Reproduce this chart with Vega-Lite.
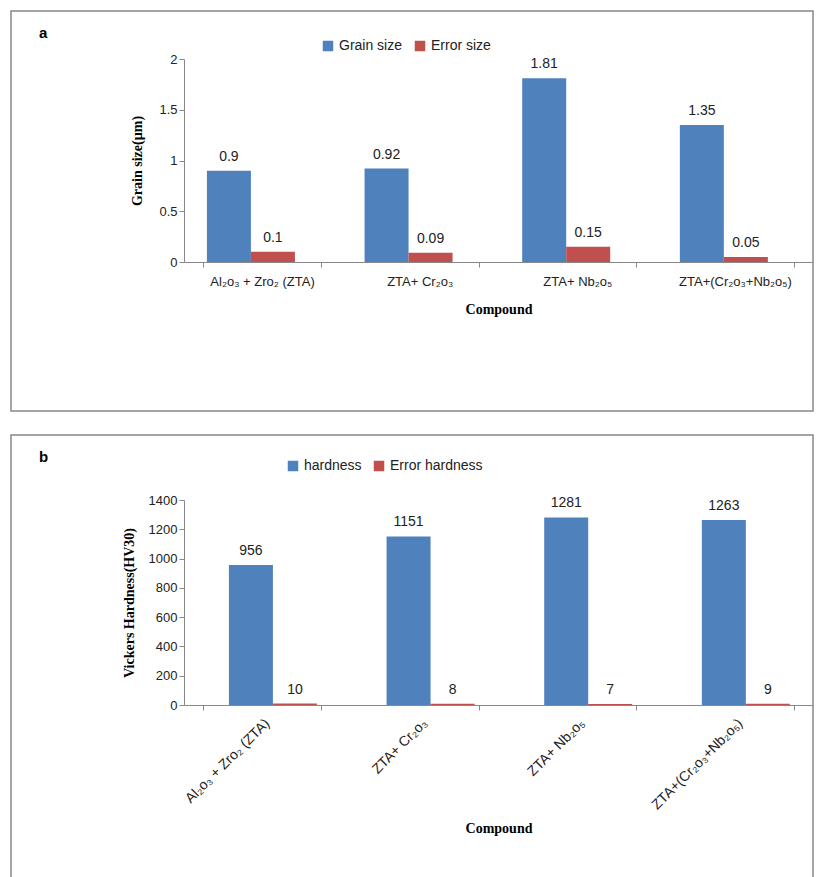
{
"$schema":"https://vega.github.io/schema/vega-lite/v6.json",
"padding":{"left":10,"top":10,"right":2,"bottom":0},
"spacing":22,
"resolve":{"scale":{"color":"independent"}},
"config":{"view":{"stroke":"#888","strokeWidth":1.5},"font":"Liberation Sans","axis":{"labelFont":"Liberation Sans","labelFontSize":13,"labelColor":"#222","titleFont":"Liberation Serif","titleFontSize":14,"titleColor":"#000","domainColor":"#888","tickColor":"#888","grid":false},"legend":{"labelFont":"Liberation Sans","labelFontSize":14,"labelColor":"#222","symbolType":"square","symbolSize":110,"orient":"none","direction":"horizontal","title":null}},
"datasets":{
"a":[
{"compound":"Al₂o₃ + Zro₂ (ZTA)","series":"Grain size","value":0.9},
{"compound":"Al₂o₃ + Zro₂ (ZTA)","series":"Error size","value":0.1},
{"compound":"ZTA+ Cr₂o₃","series":"Grain size","value":0.92},
{"compound":"ZTA+ Cr₂o₃","series":"Error size","value":0.09},
{"compound":"ZTA+ Nb₂o₅","series":"Grain size","value":1.81},
{"compound":"ZTA+ Nb₂o₅","series":"Error size","value":0.15},
{"compound":"ZTA+(Cr₂o₃+Nb₂o₅)","series":"Grain size","value":1.35},
{"compound":"ZTA+(Cr₂o₃+Nb₂o₅)","series":"Error size","value":0.05}],
"b":[
{"compound":"Al₂o₃ + Zro₂ (ZTA)","series":"hardness","value":956},
{"compound":"Al₂o₃ + Zro₂ (ZTA)","series":"Error hardness","value":10},
{"compound":"ZTA+ Cr₂o₃","series":"hardness","value":1151},
{"compound":"ZTA+ Cr₂o₃","series":"Error hardness","value":8},
{"compound":"ZTA+ Nb₂o₅","series":"hardness","value":1281},
{"compound":"ZTA+ Nb₂o₅","series":"Error hardness","value":7},
{"compound":"ZTA+(Cr₂o₃+Nb₂o₅)","series":"hardness","value":1263},
{"compound":"ZTA+(Cr₂o₃+Nb₂o₅)","series":"Error hardness","value":9}]},
"vconcat":[
{"width":802,"height":400,"data":{"name":"a"},
"title":{"text":"a","anchor":"start","orient":"top","offset":-30,"dx":28,"fontSize":15,"fontWeight":"bold","font":"Liberation Sans"},
"encoding":{
"x":{"field":"compound","type":"nominal","sort":null,"scale":{"range":[173,802],"paddingInner":0.25,"paddingOuter":0.12},"axis":{"labelAngle":0,"offset":-149,"title":"Compound","titlePadding":14,"ticks":true,"tickBand":"extent","labelPadding":8}},
"xOffset":{"field":"series","sort":["Grain size","Error size"],"scale":{"range":[15,103],"paddingInner":0,"paddingOuter":0}},
"y":{"field":"value","type":"quantitative","scale":{"domain":[0,2],"range":[251,48]},"axis":{"offset":-173,"values":[0,0.5,1,1.5,2],"format":"~g","title":"Grain size(µm)","titlePadding":14}}},
"layer":[
{"mark":{"type":"bar","width":44},"encoding":{"color":{"field":"series","sort":["Grain size","Error size"],"scale":{"domain":["Grain size","Error size"],"range":["#4F81BD","#C0504D"]},"legend":{"legendX":310,"legendY":28}}}},
{"mark":{"type":"text","dy":-14,"fontSize":14,"color":"#222"},"encoding":{"text":{"field":"value"}}}]},
{"width":802,"height":445,"data":{"name":"b"},
"title":{"text":"b","anchor":"start","orient":"top","offset":-30,"dx":28,"fontSize":15,"fontWeight":"bold","font":"Liberation Sans"},
"encoding":{
"x":{"field":"compound","type":"nominal","sort":null,"scale":{"range":[173,802],"paddingInner":0.25,"paddingOuter":0.12},"axis":{"labelAngle":-45,"offset":-175,"title":"Compound","titlePadding":10,"ticks":true,"tickBand":"extent","labelPadding":6,"labelFontSize":14}},
"xOffset":{"field":"series","sort":["hardness","Error hardness"],"scale":{"range":[15,103],"paddingInner":0,"paddingOuter":0}},
"y":{"field":"value","type":"quantitative","scale":{"domain":[0,1400],"range":[270,65]},"axis":{"offset":-173,"values":[0,200,400,600,800,1000,1200,1400],"format":"d","title":"Vickers Hardness(HV30)","titlePadding":12}}},
"layer":[
{"mark":{"type":"bar","width":44},"encoding":{"color":{"field":"series","sort":["hardness","Error hardness"],"scale":{"domain":["hardness","Error hardness"],"range":["#4F81BD","#C0504D"]},"legend":{"legendX":275,"legendY":24}}}},
{"mark":{"type":"text","dy":-14,"fontSize":14,"color":"#222"},"encoding":{"text":{"field":"value"}}}]}
]}
